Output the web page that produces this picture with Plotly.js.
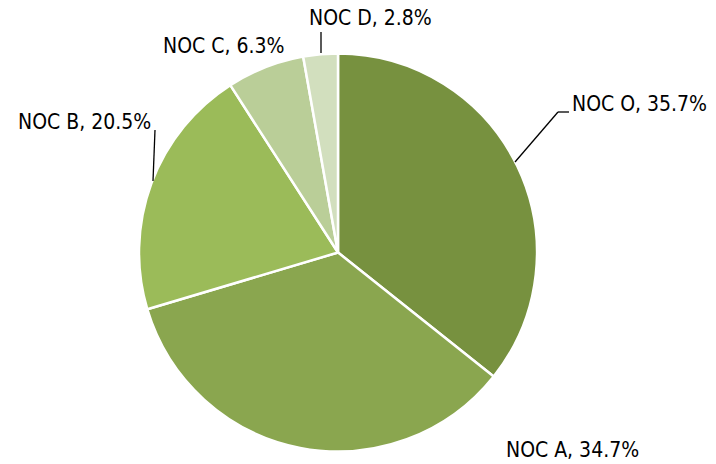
<!DOCTYPE html>
<html><head><meta charset="utf-8">
<script src="https://cdn.plot.ly/plotly-3.0.1.min.js"></script>
<style>html,body{margin:0;padding:0;background:#fff}#chart{width:716px;height:464px}</style>
</head><body><div id="chart"></div>
<script>
const categories = ["NOC O", "NOC A", "NOC B", "NOC C", "NOC D"];
const shares = [35.7, 34.7, 20.5, 6.3, 2.8];
const sliceColors = ["#77913F", "#8AA64F", "#9BBB59", "#BACE98", "#D2DFBE"];

const W = 716, H = 464;
const px = x => x / W, py = y => 1 - y / H;
const FONT = {family: "DejaVu Sans Condensed, DejaVu Sans, Liberation Sans, sans-serif", size: 21, color: "#000"};

// label anchor positions (pixels, left edge, vertical centre)
const labelPos = [[570, 104], [504, 450], [16, 122], [161, 46], [307, 18]];
const leaders = [
  [[515, 162], [558, 112], [569, 112]],
  null,
  [[153, 181], [155, 130]],
  null,
  [[321, 53], [321, 32]]
];

const annotations = categories.map((c, i) => ({
  text: c + ", " + shares[i].toFixed(1) + "%",
  xref: "paper", yref: "paper",
  x: px(labelPos[i][0]), y: py(labelPos[i][1]),
  xanchor: "left", yanchor: "middle",
  showarrow: false, font: FONT
}));

const shapes = [];
leaders.forEach(l => {
  if (!l) return;
  for (let k = 0; k < l.length - 1; k++) {
    shapes.push({type: "line", xref: "paper", yref: "paper",
      x0: px(l[k][0]), y0: py(l[k][1]), x1: px(l[k+1][0]), y1: py(l[k+1][1]),
      line: {color: "#000", width: 1.3}});
  }
});

const trace = {
  type: "pie",
  labels: categories,
  values: shares,
  sort: false,
  direction: "clockwise",
  rotation: 0,
  textinfo: "none",
  hoverinfo: "label+percent",
  marker: {colors: sliceColors, line: {color: "#fff", width: 2.5}},
  domain: {x: [px(139), px(537)], y: [py(452), py(53)]},
  showlegend: false
};

Plotly.newPlot("chart", [trace], {
  width: W, height: H,
  margin: {l: 0, r: 0, t: 0, b: 0},
  paper_bgcolor: "#fff",
  showlegend: false,
  annotations: annotations,
  shapes: shapes
}, {displayModeBar: false, staticPlot: true});
</script></body></html>
